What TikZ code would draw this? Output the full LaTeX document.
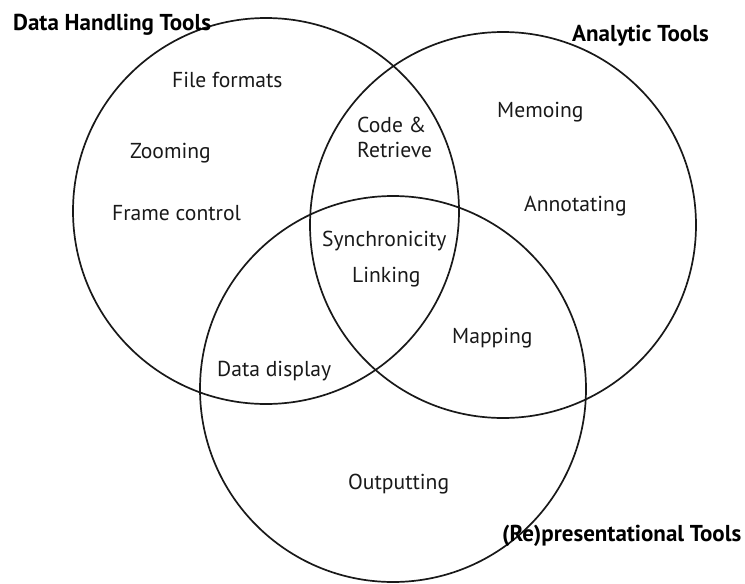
\documentclass[tikz,border=0pt]{standalone}
\usepackage{fontspec}
\setmainfont{PT Sans}
\begin{document}
\begin{tikzpicture}[x=1pt,y=-1pt,
  ring/.style={draw=black!90, line width=1.7pt},
  lbl/.style={inner sep=0pt, anchor=base west, font=\fontsize{21.6}{25}\selectfont, text=black!90},
  ttl/.style={inner sep=0pt, anchor=base west, font=\fontsize{23}{27}\selectfont\bfseries, text=black}]
\useasboundingbox (0,0) rectangle (745,584);
\draw[ring] (266,211) circle[radius=193pt];
\draw[ring] (503,225) circle[radius=193pt];
\draw[ring] (393,389) circle[radius=193pt];
\node[ttl] (dht) at (13,30) {Data Handling Tools};
\node[ttl] (at) at (572,41) {Analytic Tools};
\node[ttl] (rt) at (502,541) {(Re)presentational Tools};
\node[lbl] (ff) at (172,87) {File formats};
\node[lbl] (zo) at (130,158) {Zooming};
\node[lbl] (fc) at (112,220) {Frame control};
\node[lbl] (me) at (497,117) {Memoing};
\node[lbl] (an) at (524,211) {Annotating};
\node[lbl] (cr1) at (357,132) {Code \&};
\node[lbl] (cr2) at (357,157) {Retrieve};
\node[lbl] (sy) at (322,246) {Synchronicity};
\node[lbl] (li) at (352,282) {Linking};
\node[lbl] (ma) at (452,343) {Mapping};
\node[lbl] (dd) at (217,376) {Data display};
\node[lbl] (ou) at (348,489) {Outputting};
\end{tikzpicture}
\end{document}
